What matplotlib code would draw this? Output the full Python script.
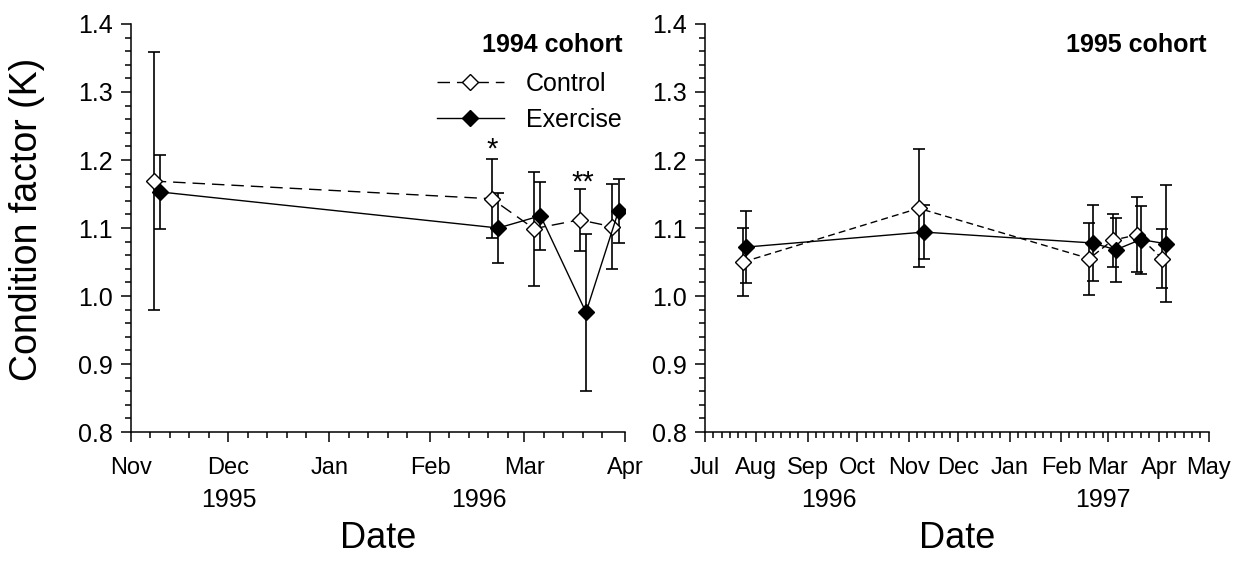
import matplotlib
matplotlib.use("Agg")
import matplotlib.pyplot as plt
import matplotlib.dates as mdates
from matplotlib.ticker import MultipleLocator, FormatStrFormatter
import pandas as pd

plt.rcParams['font.family'] = ['Liberation Sans', 'DejaVu Sans']

# ---------------- data ----------------
ctrl94_dates = ['1995-11-08', '1996-02-20', '1996-03-04', '1996-03-18', '1996-03-28']
ctrl94_k = [1.169, 1.143, 1.099, 1.112, 1.102]
ctrl94_err = [0.190, 0.058, 0.084, 0.046, 0.063]
ex94_dates = ['1995-11-10', '1996-02-22', '1996-03-06', '1996-03-20', '1996-03-30']
ex94_k = [1.153, 1.100, 1.118, 0.976, 1.125]
ex94_err = [0.054, 0.051, 0.050, 0.115, 0.047]

ctrl95_dates = ['1996-07-24', '1996-11-07', '1997-02-18', '1997-03-04', '1997-03-19', '1997-04-03']
ctrl95_k = [1.050, 1.129, 1.055, 1.082, 1.090, 1.055]
ctrl95_err = [0.050, 0.087, 0.053, 0.039, 0.055, 0.043]
ex95_dates = ['1996-07-26', '1996-11-10', '1997-02-20', '1997-03-06', '1997-03-21', '1997-04-05']
ex95_k = [1.072, 1.094, 1.078, 1.068, 1.083, 1.077]
ex95_err = [0.053, 0.040, 0.056, 0.047, 0.050, 0.086]

sig_dates = ['1996-02-20', '1996-03-19']
sig_labels = ['*', '**']
sig_k = [1.216, 1.167]

panel_titles = ['1994 cohort', '1995 cohort']
series_labels = ['Control', 'Exercise']
xlims = [('1995-11-01', '1996-04-01'), ('1996-07-01', '1997-05-01')]
year_labels = [[('1995-12-01', '1995'), ('1996-02-16', '1996')],
               [('1996-09-14', '1996'), ('1997-02-26', '1997')]]
minor_days = [[7, 13, 19, 25], [6, 11, 16, 21, 26]]

# ---------------- figure ----------------
fig = plt.figure(figsize=(12.33, 5.62), dpi=100)
ax1 = fig.add_axes([0.1062, 0.2313, 0.4007, 0.7260])
ax2 = fig.add_axes([0.5718, 0.2313, 0.4084, 0.7260])

def draw(ax, cd, ck, ce, ed, ek, ee, dash):
    cd = pd.to_datetime(cd)
    ed = pd.to_datetime(ed)
    ax.errorbar(cd, ck, yerr=ce, fmt='none', ecolor='black', elinewidth=1.2,
                capsize=4, capthick=1.2, zorder=2)
    ax.errorbar(ed, ek, yerr=ee, fmt='none', ecolor='black', elinewidth=1.2,
                capsize=4, capthick=1.2, zorder=2)
    lc, = ax.plot(cd, ck, linestyle=(0, dash), color='black', linewidth=1.0,
                  marker='D', markersize=7.8, markerfacecolor='white',
                  markeredgecolor='black', markeredgewidth=1.0, zorder=3,
                  label=series_labels[0])
    le, = ax.plot(ed, ek, linestyle='-', color='black', linewidth=1.0,
                  marker='D', markersize=7.8, markerfacecolor='black',
                  markeredgecolor='black', zorder=4, label=series_labels[1])
    return lc, le

lc, le = draw(ax1, ctrl94_dates, ctrl94_k, ctrl94_err, ex94_dates, ex94_k, ex94_err, (9, 5))
draw(ax2, ctrl95_dates, ctrl95_k, ctrl95_err, ex95_dates, ex95_k, ex95_err, (5, 3))

for d, lab, k in zip(sig_dates, sig_labels, sig_k):
    ax1.text(pd.Timestamp(d), k, lab, ha='center', va='center', fontsize=21)

for i, ax in enumerate([ax1, ax2]):
    ax.set_ylim(0.8, 1.4)
    ax.set_xlim(pd.Timestamp(xlims[i][0]), pd.Timestamp(xlims[i][1]))
    ax.yaxis.set_major_locator(MultipleLocator(0.1))
    ax.yaxis.set_minor_locator(MultipleLocator(0.02))
    ax.yaxis.set_major_formatter(FormatStrFormatter('%.1f'))
    ax.xaxis.set_major_locator(mdates.MonthLocator())
    ax.xaxis.set_major_formatter(mdates.DateFormatter('%b'))
    ax.xaxis.set_minor_locator(mdates.DayLocator(bymonthday=minor_days[i]))
    for s in ['top', 'right']:
        ax.spines[s].set_visible(False)
    for s in ['left', 'bottom']:
        ax.spines[s].set_linewidth(1.1)
    ax.tick_params(which='major', direction='out', length=7, width=1.1,
                   labelsize=17)
    ax.tick_params(which='minor', direction='out', length=4.5, width=1.1)
    ax.tick_params(axis='x', which='major', pad=11)
    ax.tick_params(axis='y', which='major', labelsize=18, pad=6)
    ax.text(0.995, 0.949, panel_titles[i], transform=ax.transAxes, ha='right',
            va='center', fontsize=18, fontweight='bold')
    trans = ax.get_xaxis_transform()
    for d, lab in year_labels[i]:
        ax.text(pd.Timestamp(d), -0.167, lab, transform=trans, ha='center',
                va='center', fontsize=18)
    ax.set_xlabel('Date', fontsize=26, va='center')
    ax.xaxis.set_label_coords(0.5, -0.26)

ax1.set_ylabel('Condition factor (K)', fontsize=27, va='center')
ax1.yaxis.set_label_coords(-0.21, 0.52)

ax1.legend(handles=[lc, le], loc='upper left', bbox_to_anchor=(0.62, 0.883),
           frameon=False, fontsize=18, handlelength=2.65, handletextpad=0.9,
           labelspacing=0.5, borderpad=0, borderaxespad=0)

fig.savefig('out.png', dpi=100)
